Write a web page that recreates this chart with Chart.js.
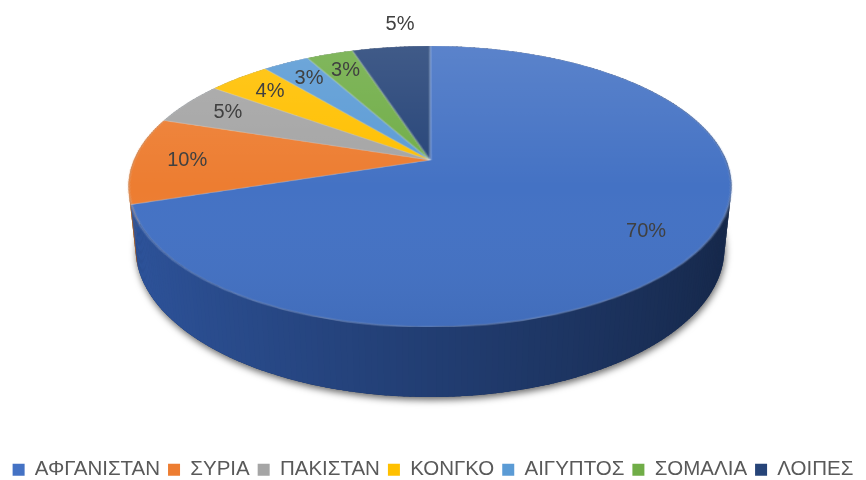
<!DOCTYPE html>
<html>
<head>
<meta charset="utf-8">
<script src="https://cdn.jsdelivr.net/npm/chart.js@4.4.0/dist/chart.umd.min.js"></script>
<style>
  html, body { margin: 0; padding: 0; background: #fff; }
  #wrap { width: 866px; height: 480px; }
</style>
</head>
<body>
<div id="wrap"><canvas id="chart" width="866" height="480"></canvas></div>
<script>
// ── Data ─────────────────────────────────────
const countries   = ['ΑΦΓΑΝΙΣΤΑΝ', 'ΣΥΡΙΑ', 'ΠΑΚΙΣΤΑΝ', 'ΚΟΝΓΚΟ', 'ΑΙΓΥΠΤΟΣ', 'ΣΟΜΑΛΙΑ', 'ΛΟΙΠΕΣ'];
const shares      = [70, 10, 5, 4, 3, 3, 5];
const sliceColors = ['#4472C4', '#ED7D31', '#A5A5A5', '#FFC000', '#5B9BD5', '#70AD47', '#264478'];

// ── 3D view (perspective tilt of the flat pie) ──
const VIEW = {
  ax: 430, ay: 160,          // apex on screen
  k: 1395.6, dist: 4.714,    // focal length / camera distance (radius = 1)
  tilt: 27.24 * Math.PI / 180,
  depth: 0.2364              // thickness of the disc
};
const S = Math.sin(VIEW.tilt), C = Math.cos(VIEW.tilt);

function project(u, v, t) {
  const Y = v * S + t * C;
  const Z = VIEW.dist - v * C + t * S;
  return [VIEW.ax + VIEW.k * u / Z, VIEW.ay + VIEW.k * Y / Z];
}

function hexRgb(hex) {
  const n = parseInt(hex.slice(1), 16);
  return [(n >> 16) & 255, (n >> 8) & 255, n & 255];
}

// darker side colour, blue kept a bit richer
function shade(hex, f) {
  const [r, g, b] = hexRgb(hex);
  const fb = Math.min(1, f * 1.08);
  return `rgb(${Math.round(r * f * 0.92)},${Math.round(g * f)},${Math.round(b * fb)})`;
}

function sliceIndexAt(arcs, theta) {
  for (let i = 0; i < arcs.length; i++) {
    let a = theta;
    while (a < arcs[i].startAngle) a += Math.PI * 2;
    while (a >= arcs[i].startAngle + Math.PI * 2) a -= Math.PI * 2;
    if (a < arcs[i].endAngle) return i;
  }
  return 0;
}

// ── Plugin: turn the flat pie into a tilted disc ──
const pie3d = {
  id: 'pie3d',
  afterDatasetsDraw(chart) {
    const ctx  = chart.ctx;
    const arcs = chart.getDatasetMeta(0).data;
    const R    = arcs[0].outerRadius;
    const cx   = arcs[0].x, cy = arcs[0].y;
    const size = Math.ceil(2 * R + 4);

    // copy flat pie drawn by Chart.js, then wipe it
    const off  = document.createElement('canvas');
    off.width  = size;
    off.height = size;
    off.getContext('2d').drawImage(chart.canvas,
      cx - size / 2, cy - size / 2, size, size, 0, 0, size, size);
    ctx.clearRect(cx - size / 2, cy - size / 2, size, size);

    ctx.save();

    // bottom face with soft shadow
    ctx.beginPath();
    for (let d = 0; d <= 360; d += 2) {
      const a = d * Math.PI / 180;
      const [x, y] = project(Math.cos(a), Math.sin(a), VIEW.depth);
      d === 0 ? ctx.moveTo(x, y) : ctx.lineTo(x, y);
    }
    ctx.closePath();
    ctx.shadowColor   = 'rgba(0,0,0,0.6)';
    ctx.shadowBlur    = 7;
    ctx.shadowOffsetY = 3;
    ctx.shadowOffsetX = 1;
    ctx.fillStyle = '#1b2f5a';
    ctx.fill();
    ctx.shadowColor = 'transparent';

    // side wall, back to front
    const step  = 1;
    const quads = [];
    for (let d = 0; d < 360; d += step) {
      const a1 = d * Math.PI / 180;
      const a2 = (d + step + 0.4) * Math.PI / 180;
      const mid = (a1 + a2) / 2;
      quads.push({ a1, a2, mid, z: Math.sin(mid) });
    }
    quads.sort((p, q) => p.z - q.z);
    quads.forEach(q => {
      const idx = sliceIndexAt(arcs, q.mid);
      const f   = 0.54 - 0.2 * Math.cos(q.mid);
      const p1 = project(Math.cos(q.a1), Math.sin(q.a1), 0);
      const p2 = project(Math.cos(q.a2), Math.sin(q.a2), 0);
      const p3 = project(Math.cos(q.a2), Math.sin(q.a2), VIEW.depth);
      const p4 = project(Math.cos(q.a1), Math.sin(q.a1), VIEW.depth);
      ctx.beginPath();
      ctx.moveTo(p1[0], p1[1]);
      ctx.lineTo(p2[0], p2[1]);
      ctx.lineTo(p3[0], p3[1]);
      ctx.lineTo(p4[0], p4[1]);
      ctx.closePath();
      ctx.fillStyle = shade(sliceColors[idx], f);
      ctx.fill();
    });

    // top face: redraw each screen row from the flat pie
    const yTop = Math.floor(project(0, -1, 0)[1]);
    const yBot = Math.ceil(project(0, 1, 0)[1]);
    for (let y = yTop; y <= yBot; y++) {
      const yr = y + 0.5 - VIEW.ay;
      const v  = yr * VIEW.dist / (VIEW.k * S + C * yr);
      if (Math.abs(v) > 1) continue;
      const scale = VIEW.k / (VIEW.dist - C * v);
      const srcY  = size / 2 + v * R - 0.5;
      const w     = size / R * scale;
      ctx.drawImage(off, 0, srcY, size, 1, VIEW.ax - w / 2, y, w, 1);
    }

    // light falloff across the top
    ctx.beginPath();
    for (let d = 0; d <= 360; d += 2) {
      const a = d * Math.PI / 180;
      const [x, y] = project(Math.cos(a), Math.sin(a), 0);
      d === 0 ? ctx.moveTo(x, y) : ctx.lineTo(x, y);
    }
    ctx.closePath();
    const grad = ctx.createLinearGradient(0, yTop, 0, yBot);
    grad.addColorStop(0, 'rgba(255,255,255,0.12)');
    grad.addColorStop(0.5, 'rgba(255,255,255,0.0)');
    grad.addColorStop(1, 'rgba(0,0,0,0.05)');
    ctx.fillStyle = grad;
    ctx.fill();

    // percentage labels
    const total = shares.reduce((a, b) => a + b, 0);
    ctx.font = '20px "Liberation Sans", Arial, sans-serif';
    ctx.fillStyle = '#404040';
    ctx.textAlign = 'center';
    ctx.textBaseline = 'middle';
    arcs.forEach((arc, i) => {
      const mid = (arc.startAngle + arc.endAngle) / 2;
      const u = Math.cos(mid), v = Math.sin(mid);
      let x, y;
      if (v < -0.95) {
        [x, y] = project(u, v, 0);
        x += 9; y -= 23;
      } else {
        [x, y] = project(0.82 * u, 0.82 * v, 0);
      }
      ctx.fillText(Math.round(shares[i] / total * 100) + '%', x, y);
    });

    ctx.restore();
  }
};

new Chart(document.getElementById('chart'), {
  type: 'pie',
  data: {
    labels: countries,
    datasets: [{
      data: shares,
      backgroundColor: sliceColors,
      borderColor: 'rgba(255,255,255,0.35)',
      borderWidth: 1
    }]
  },
  options: {
    responsive: false,
    animation: false,
    events: [],
    layout: { padding: { top: 10, bottom: -10, left: 0, right: 0 } },
    plugins: {
      tooltip: { enabled: false },
      legend: {
        position: 'bottom',
        labels: {
          boxWidth: 12,
          boxHeight: 12,
          padding: 8,
          color: '#595959',
          font: { family: '"Liberation Sans", Arial, sans-serif', size: 20.5 },
          generateLabels: (chart) =>
            Chart.controllers.pie.overrides.plugins.legend.labels
              .generateLabels(chart)
              .map(l => ({ ...l, lineWidth: 0, strokeStyle: 'transparent' }))
        }
      }
    }
  },
  plugins: [pie3d]
});
</script>
</body>
</html>
